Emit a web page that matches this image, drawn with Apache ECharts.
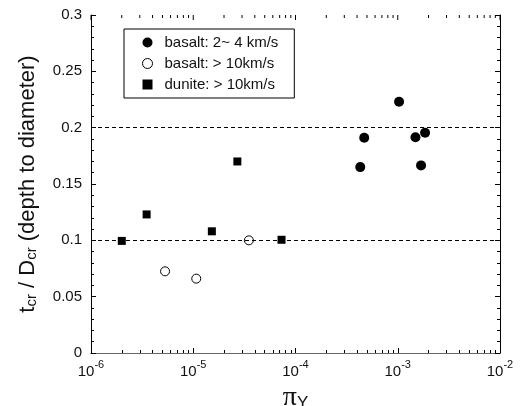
<!DOCTYPE html>
<html><head><meta charset="utf-8">
<script src="https://cdn.jsdelivr.net/npm/echarts@6/dist/echarts.min.js"></script>
<style>html,body{margin:0;padding:0;background:#fff}#c{width:523px;height:406px}</style>
</head><body><div id="c"></div>
<script>
// Data
const basaltSlow = [[4.3e-4,0.165],[4.7e-4,0.191],[1.03e-3,0.223],[1.49e-3,0.1915],[1.85e-3,0.1955],[1.69e-3,0.1665]];
const basaltFast = [[5.3e-6,0.0725],[1.07e-5,0.066],[3.5e-5,0.100]];
const duniteFast = [[2.0e-6,0.0995],[3.5e-6,0.123],[1.52e-5,0.108],[2.7e-5,0.170],[7.3e-5,0.1005]];
const seriesNames = ['basalt: 2~ 4 km/s','basalt: > 10km/s','dunite: > 10km/s'];
const refLines = [0.1, 0.2];

// tick positions for the top (mirror) log axis: [value, isMajor]
const topTicks = [];
for (let d = -6; d <= -2; d++) {
  topTicks.push([Math.pow(10,d), 1]);
  if (d < -2) for (let m = 2; m <= 9; m++) topTicks.push([m*Math.pow(10,d), 0]);
}

const FONT = 'Liberation Sans';
const chart = echarts.init(document.getElementById('c'));
const supFmt = v => { const e = Math.round(Math.log10(v)); return '{b|10}{s|' + (e<0?'-':'') + Math.abs(e) + '}'; };
const xLabelRich = () => ({b:{fontSize:15,fontFamily:FONT,color:'#111',verticalAlign:'bottom',lineHeight:20}, s:{fontSize:11,fontFamily:FONT,color:'#111',verticalAlign:'top',lineHeight:20,padding:[0,0,7,0]}});
const axisLine = () => ({show:true,lineStyle:{color:'#000',width:1}});
const tick = () => ({show:true,inside:true,length:5,lineStyle:{color:'#000',width:1}});
const xMinor = () => ({show:true,splitNumber:9,length:3,lineStyle:{color:'#000',width:1}});
const yMinor = () => ({show:true,splitNumber:5,length:3,lineStyle:{color:'#000',width:1}});
chart.setOption({
  animation:false,
  grid:{left:91,right:23,top:15,bottom:53,outerBoundsMode:'none'},
  legend:{
    orient:'vertical', left:124, top:29, width:172,
    borderColor:'#000', borderWidth:1, padding:[6,16,6,18],
    itemGap:6, itemWidth:10, itemHeight:10,
    textStyle:{fontFamily:FONT,fontSize:15,color:'#111',padding:[0,0,0,7]},
    data:[
      {name:seriesNames[0],icon:'circle',itemStyle:{color:'#000',opacity:1}},
      {name:seriesNames[1],icon:'circle',itemStyle:{color:'#fff',borderColor:'#000',borderWidth:1,opacity:1}},
      {name:seriesNames[2],icon:'rect',itemStyle:{color:'#000',opacity:1}}
    ]
  },
  xAxis:[
    {type:'log',logBase:10,min:1e-6,max:1e-2,position:'bottom',
     name:'{p|π}{y|Y}',nameLocation:'middle',nameGap:27,
     nameTextStyle:{rich:{p:{fontSize:28,fontFamily:'Liberation Serif',color:'#111',verticalAlign:'bottom',lineHeight:26},y:{fontSize:17,fontFamily:FONT,color:'#111',verticalAlign:'bottom',lineHeight:24}}},
     axisLine:axisLine(), axisTick:tick(), minorTick:xMinor(),
     axisLabel:{margin:6,formatter:supFmt,rich:xLabelRich()},
     splitLine:{show:false},minorSplitLine:{show:false}},
    {type:'log',logBase:10,min:1e-6,max:1e-2,position:'top',
     axisLine:{show:true,lineStyle:{color:'#666',width:1}}, axisTick:{show:false}, minorTick:{show:false},
     axisLabel:{show:false},splitLine:{show:false},minorSplitLine:{show:false}}
  ],
  yAxis:[
    {type:'value',min:0,max:0.3,interval:0.05,position:'left',
     name:'t{s|cr} / D{s|cr} (depth to diameter)',nameLocation:'middle',nameGap:52,nameRotate:90,
     nameTextStyle:{fontFamily:FONT,fontSize:22,color:'#111',rich:{s:{fontSize:15,fontFamily:FONT,color:'#111',padding:[7,0,0,0]}}},
     axisLine:axisLine(), axisTick:tick(), minorTick:yMinor(),
     axisLabel:{margin:9,fontFamily:FONT,fontSize:15,color:'#111',formatter:v=>String(+v.toFixed(2))},
     splitLine:{show:false},minorSplitLine:{show:false}},
    {type:'value',min:0,max:0.3,interval:0.05,position:'right',
     axisLine:axisLine(), axisTick:tick(), minorTick:yMinor(),
     axisLabel:{show:false},splitLine:{show:false},minorSplitLine:{show:false}}
  ],
  series:[
    {name:'topTicks',type:'custom',xAxisIndex:0,yAxisIndex:0,silent:true,clip:false,
     data:topTicks, encode:{x:0}, z:1,
     renderItem:(params,api)=>{
       const p = api.coord([api.value(0),0.3]);
       const len = api.value(1) ? 5 : 3;
       return {type:'line',shape:{x1:p[0],y1:p[1],x2:p[0],y2:p[1]+len},style:{stroke:'#000',lineWidth:1}};
     }},
    {name:seriesNames[0],type:'scatter',data:basaltSlow,symbol:'circle',symbolSize:10,itemStyle:{color:'#000',opacity:1},z:3,
     markLine:{silent:true,symbol:'none',label:{show:false},lineStyle:{color:'#000',type:[4,3],width:1,opacity:1},data:refLines.map(v=>({yAxis:v}))}},
    {name:seriesNames[1],type:'scatter',data:basaltFast,symbol:'circle',symbolSize:9,itemStyle:{color:'#fff',borderColor:'#000',borderWidth:1,opacity:1},z:4},
    {name:seriesNames[2],type:'scatter',data:duniteFast,symbol:'rect',symbolSize:8,itemStyle:{color:'#000',opacity:1},z:3}
  ]
});
</script></body></html>
